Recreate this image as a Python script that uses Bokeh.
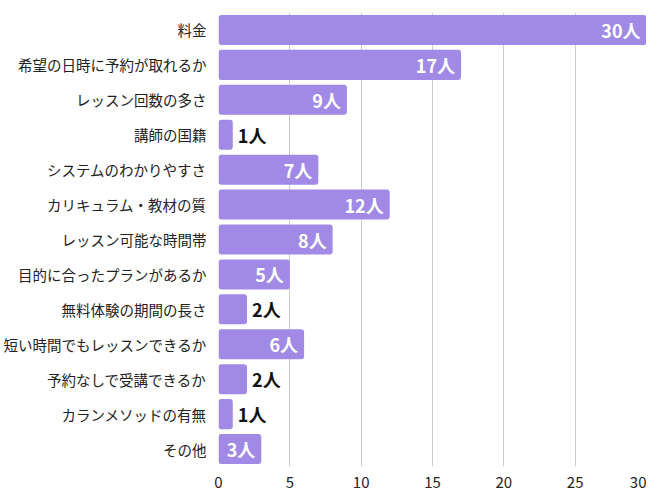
from bokeh.plotting import figure
from bokeh.models import ColumnDataSource, FactorRange, FixedTicker
from bokeh.core.properties import value
from bokeh.embed import file_html
from bokeh.resources import INLINE

categories = ["料金", "希望の日時に予約が取れるか", "レッスン回数の多さ", "講師の国籍",
              "システムのわかりやすさ", "カリキュラム・教材の質", "レッスン可能な時間帯",
              "目的に合ったプランがあるか", "無料体験の期間の長さ", "短い時間でもレッスンできるか",
              "予約なしで受講できるか", "カランメソッドの有無", "その他"]
counts = [30, 17, 9, 1, 7, 12, 8, 5, 2, 6, 2, 1, 3]
unit = "人"
x_ticks = [0, 5, 10, 15, 20, 25, 30]

FONT = "Noto Sans CJK JP"
BAR = "#a08ae6"

inside = [c >= 3 for c in counts]
src = ColumnDataSource(dict(
    cat=categories,
    val=counts,
    label=[f"{c}{unit}" for c in counts],
    align=["right" if i else "left" for i in inside],
    color=["#ffffff" if i else "#111111" for i in inside],
    off=[-6 if i else 5 for i in inside],
))

p = figure(width=646, height=490, output_backend="svg", toolbar_location=None,
           y_range=FactorRange(factors=list(reversed(categories)), range_padding=0.0),
           x_range=(0, 30),
           min_border_left=209, min_border_right=0, min_border_top=12, min_border_bottom=14)

p.hbar(y="cat", right="val", left=0, height=0.86, source=src, color=BAR,
       line_color=None, border_radius=3)
p.text(x="val", y="cat", text="label", source=src, text_align="align",
       text_baseline="middle", text_color="color", x_offset="off",
       text_font=value(FONT), text_font_style="bold", text_font_size="18px")

p.outline_line_color = None
p.ygrid.grid_line_color = None
p.xgrid.grid_line_color = "#cccccc"
p.xgrid.ticker = FixedTicker(ticks=x_ticks)
p.xaxis.ticker = FixedTicker(ticks=x_ticks)

for ax in (p.xaxis[0], p.yaxis[0]):
    ax.axis_line_color = None
    ax.major_tick_line_color = None
    ax.minor_tick_line_color = None
    ax.major_label_text_font = FONT
    ax.major_label_text_color = "#222222"
p.yaxis.major_label_text_font_size = "14.5px"
p.xaxis.major_label_text_font_size = "15px"
p.yaxis.major_label_standoff = 6
p.xaxis.major_label_standoff = 4

open("out.html", "w").write(file_html(p, INLINE))
